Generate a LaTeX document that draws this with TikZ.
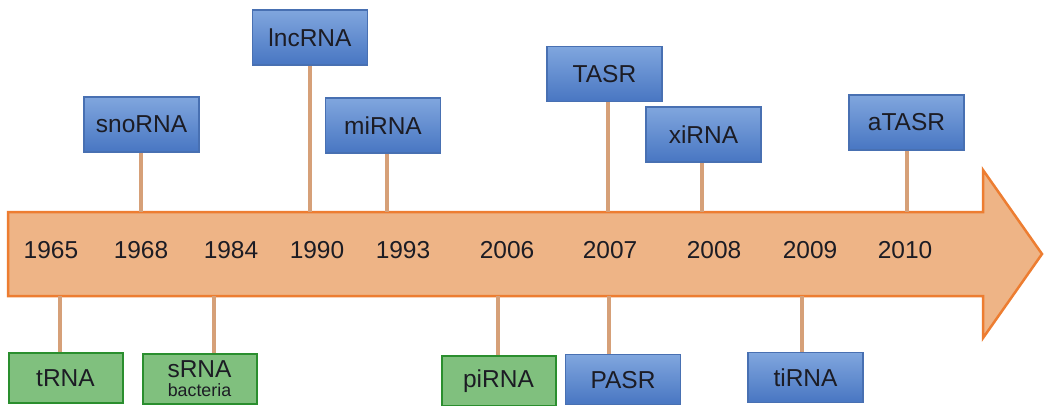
\documentclass[tikz,border=0pt]{standalone}
\usepackage{fontspec}
\setmainfont{Liberation Sans}
\usepackage{xcolor}
\usepackage{tikz}

\begin{document}
\begin{tikzpicture}[x=1pt,y=1pt,
  bluebox/.style={draw=boxBorder,line width=1.2pt,top color=boxTop,bottom color=boxBottom,
    minimum width=115pt,minimum height=55pt,inner sep=0pt,text=textColor,
    font=\fontsize{24.5}{28}\selectfont},
  greenbox/.style={draw=greenBorder,line width=2pt,fill=greenFill,
    minimum width=114pt,minimum height=50pt,inner sep=0pt,text=textColor,
    font=\fontsize{24.5}{28}\selectfont,align=center},
  stem/.style={draw=stemColor,line width=4pt},
  year/.style={text=textColor,inner sep=0pt,font=\fontsize{24.5}{28}\selectfont}]
\definecolor{barFill}{RGB}{238,180,134}
\definecolor{barBorder}{RGB}{237,125,49}
\definecolor{stemColor}{RGB}{214,160,120}
\definecolor{boxTop}{RGB}{128,166,222}
\definecolor{boxBottom}{RGB}{72,118,194}
\definecolor{boxBorder}{RGB}{72,112,178}
\definecolor{greenFill}{RGB}{128,192,126}
\definecolor{greenBorder}{RGB}{42,142,46}
\definecolor{textColor}{RGB}{28,28,36}
\path[use as bounding box,fill=white] (0,0) rectangle (1048,405);
\clip (0,0) rectangle (1048,405);

% the time axis
\path[draw=barBorder,fill=barFill,line width=2.5pt,line join=miter] (8,109) -- (983,109) --
	(983,67) --
	(1042,151) --
	(983,235) --
	(983,193) --
	(8,193) -- cycle;

\node[year] (y1965) at ( 51,155) {1965};
\node[year] (y1968) at (141,155) {1968};
\node[year] (y1984) at (231,155) {1984};
\node[year] (y1990) at (317,155) {1990};
\node[year] (y1993) at (403,155) {1993};
\node[year] (y2006) at (507,155) {2006};
\node[year] (y2007) at (610,155) {2007};
\node[year] (y2008) at (714,155) {2008};
\node[year] (y2009) at (810,155) {2009};
\node[year] (y2010) at (905,155) {2010};

% where the stems meet the axis
\coordinate (t1968) at (141,193);
\coordinate (t1990) at (310,193);
\coordinate (t1993) at (387,193);
\coordinate (t2007) at (608,193);
\coordinate (t2008) at (702,193);
\coordinate (t2010) at (907,193);
\coordinate (b1965) at ( 60,109);
\coordinate (b1984) at (214,109);
\coordinate (b2006) at (498,109);
\coordinate (b2007) at (609,109);
\coordinate (b2009) at (802,109);

% above the axis
\node[bluebox] (snoRNA) at (141.5,280.5) {snoRNA};
\node[bluebox] (lncRNA) at (310.0,367.5) {lncRNA};
\node[bluebox] (miRNA)  at (383.0,279.5) {miRNA};
\node[bluebox] (TASR)   at (604.5,331.0) {TASR};
\node[bluebox] (xiRNA)  at (703.5,270.5) {xiRNA};
\node[bluebox] (aTASR)  at (906.5,282.5) {aTASR};

\draw[stem] (t1968) -- (t1968 |- snoRNA.south);
\draw[stem] (t1990) -- (t1990 |- lncRNA.south);
\draw[stem] (t1993) -- (t1993 |- miRNA.south);
\draw[stem] (t2007) -- (t2007 |- TASR.south);
\draw[stem] (t2008) -- (t2008 |- xiRNA.south);
\draw[stem] (t2010) -- (t2010 |- aTASR.south);

% below the axis
\node[greenbox,anchor=north] (tRNA)  at ( 65.5,53) {tRNA};
\node[greenbox,anchor=north] (sRNA)  at (199.5,52) {sRNA\\[-9pt]{\fontsize{17.8}{20}\selectfont bacteria}};
\node[greenbox,anchor=north] (piRNA) at (498.5,50) {piRNA};
\node[bluebox,anchor=north,minimum height=50pt] (PASR)  at (623.0,51) {PASR};
\node[bluebox,anchor=north,minimum height=50pt] (tiRNA) at (805.5,53) {tiRNA};

\draw[stem] (b1965) -- (b1965 |- tRNA.north);
\draw[stem] (b1984) -- (b1984 |- sRNA.north);
\draw[stem] (b2006) -- (b2006 |- piRNA.north);
\draw[stem] (b2007) -- (b2007 |- PASR.north);
\draw[stem] (b2009) -- (b2009 |- tiRNA.north);
\end{tikzpicture}
\end{document}
